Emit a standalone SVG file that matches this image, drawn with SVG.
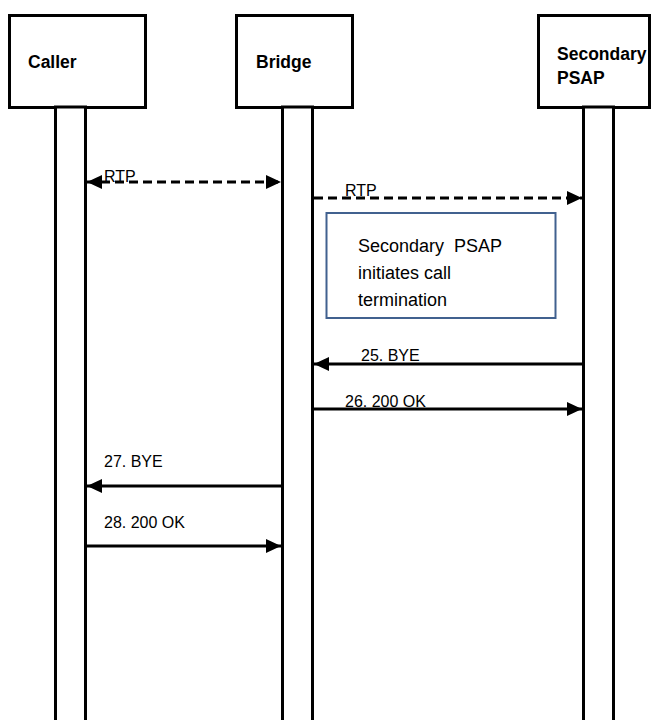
<svg xmlns="http://www.w3.org/2000/svg" width="652" height="720" viewBox="0 0 652 720">
<style>
.box{fill:#fff;stroke:#000;stroke-width:3}
.life{fill:#fff;stroke:#000;stroke-width:3}
.hdr{font-family:"Liberation Sans",Arial,sans-serif;font-weight:bold;font-size:17.5px;fill:#000}
.lbl{font-family:"Liberation Sans",Arial,sans-serif;font-size:16px;fill:#000}
.note{font-family:"Liberation Sans",Arial,sans-serif;font-size:18px;fill:#000}
.msg{stroke:#000;stroke-width:3;fill:none}
.dash{stroke-dasharray:9 5}
</style>
<defs>
<marker id="ah" markerUnits="userSpaceOnUse" markerWidth="16" markerHeight="16" viewBox="0 0 16 16" refX="15" refY="8" orient="auto-start-reverse">
<path d="M0,1 L15,8 L0,15 Z" fill="#000"/>
</marker>
</defs>
<g id="caller">
<rect class="box" x="9.5" y="15.5" width="136" height="92"/>
<text class="hdr" x="28" y="68">Caller</text>
<rect class="life" x="55.5" y="107" width="30" height="620"/>
</g>
<g id="bridge">
<rect class="box" x="236.5" y="15.5" width="116" height="92"/>
<text class="hdr" x="256" y="68">Bridge</text>
<rect class="life" x="282.5" y="107" width="30" height="620"/>
</g>
<g id="secondary-psap">
<rect class="box" x="538.5" y="15.5" width="111" height="92"/>
<text class="hdr" x="557" y="60">Secondary</text>
<text class="hdr" x="557" y="84">PSAP</text>
<rect class="life" x="583.5" y="107" width="30" height="620"/>
</g>
<g id="note">
<rect x="326.5" y="213" width="229" height="105" fill="#fff" stroke="#41618f" stroke-width="2"/>
<text class="note" x="358" y="252" xml:space="preserve">Secondary  PSAP</text>
<text class="note" x="358" y="279">initiates call</text>
<text class="note" x="358" y="306">termination</text>
</g>
<g id="connectors">
<line class="msg dash" x1="87" y1="182" x2="281" y2="182" marker-start="url(#ah)" marker-end="url(#ah)"/>
<text class="lbl" x="104" y="182">RTP</text>
<line class="msg dash" x1="314" y1="198" x2="582" y2="198" marker-end="url(#ah)"/>
<text class="lbl" x="345" y="196">RTP</text>
<line class="msg" x1="583" y1="364" x2="314" y2="364" marker-end="url(#ah)"/>
<text class="lbl" x="361" y="361">25. BYE</text>
<line class="msg" x1="313" y1="409" x2="582" y2="409" marker-end="url(#ah)"/>
<text class="lbl" x="345" y="407">26. 200 OK</text>
<line class="msg" x1="283" y1="486" x2="87" y2="486" marker-end="url(#ah)"/>
<text class="lbl" x="104" y="467">27. BYE</text>
<line class="msg" x1="86" y1="546" x2="281" y2="546" marker-end="url(#ah)"/>
<text class="lbl" x="104" y="528">28. 200 OK</text>
</g>
</svg>
